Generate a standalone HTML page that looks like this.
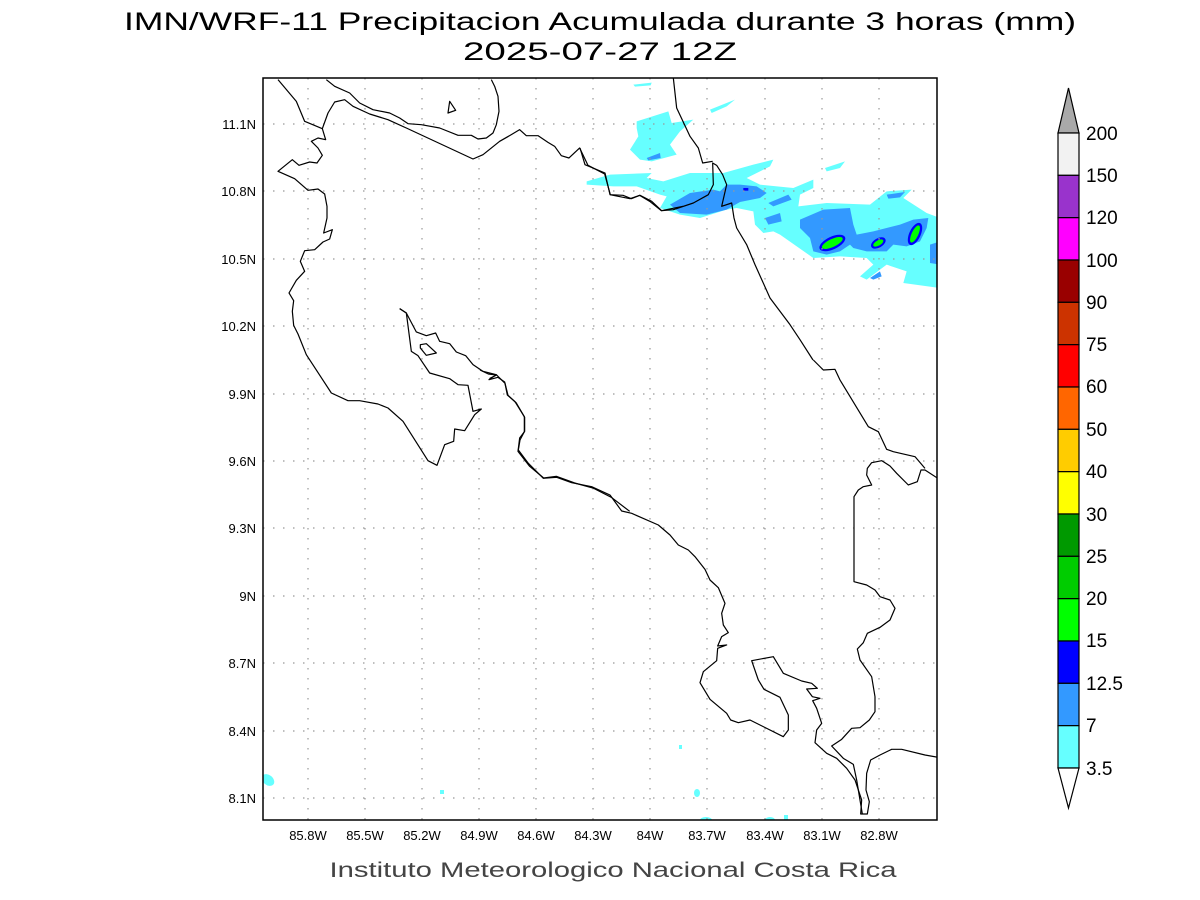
<!DOCTYPE html>
<html><head><meta charset="utf-8"><style>html,body{margin:0;padding:0;background:#fff}svg{display:block}</style></head><body>
<svg width="1200" height="900" viewBox="0 0 1200 900" xmlns="http://www.w3.org/2000/svg" font-family="Liberation Sans, sans-serif">
<rect width="1200" height="900" fill="#fff"/>
<text x="600" y="30" font-size="25" text-anchor="middle" textLength="952" lengthAdjust="spacingAndGlyphs" fill="#000">IMN/WRF-11 Precipitacion Acumulada durante 3 horas (mm)</text>
<text x="600" y="60" font-size="25" text-anchor="middle" textLength="274" lengthAdjust="spacingAndGlyphs" fill="#000">2025-07-27 12Z</text>
<defs><clipPath id="pc"><rect x="263" y="78" width="674" height="742"/></clipPath></defs>
<g clip-path="url(#pc)">
<g transform="translate(580,78) scale(0.33333)">
<path fill="#66ffff" d="M160,20 L215,14 L212,22 L165,26Z M170,130 L265,100 L275,135 L340,125 L300,160 L270,200 L290,230 L215,250 L180,245 L150,215 L175,175 L170,150Z M390,95 L465,65 L440,85 L395,105Z M20,310 L90,290 L215,285 L200,300 L250,310 L330,285 L430,285 L520,260 L580,245 L570,265 L500,300 L540,320 L640,330 L700,305 L700,330 L660,350 L655,385 L740,375 L870,380 L920,340 L995,335 L970,360 L1040,405 L1080,420 L1080,630 L970,615 L980,580 L920,560 L860,605 L840,595 L880,560 L860,540 L780,535 L700,540 L600,470 L580,460 L550,465 L525,440 L520,400 L470,390 L440,395 L360,420 L300,410 L240,390 L260,355 L240,350 L170,325 L100,325 L20,320Z M735,270 L795,250 L780,270 L740,280Z"/>
<path fill="#3399ff" d="M200,240 L240,225 L242,240 L205,247Z M270,380 L330,345 L400,335 L420,340 L440,320 L480,320 L530,325 L560,345 L540,360 L480,372 L440,395 L380,410 L300,405Z M565,375 L625,350 L635,365 L580,385Z M555,420 L600,405 L605,430 L565,440Z M920,350 L975,342 L960,358 L925,362Z M660,425 L730,395 L810,390 L820,440 L830,470 L880,460 L960,440 L1000,425 L1045,420 L1040,450 L1020,490 L980,505 L940,500 L920,520 L860,520 L820,510 L810,500 L780,520 L740,530 L700,520 L690,480 L660,450Z M1050,500 L1080,490 L1080,560 L1050,555Z M870,600 L900,580 L905,595 L880,605Z"/>
<ellipse cx="757" cy="495" rx="42" ry="19" transform="rotate(-25 757 495)" fill="#0000ff"/>
<ellipse cx="895" cy="495" rx="24" ry="14" transform="rotate(-30 895 495)" fill="#0000ff"/>
<ellipse cx="1005" cy="468" rx="17" ry="36" transform="rotate(25 1005 468)" fill="#0000ff"/>
<ellipse cx="757" cy="495" rx="34" ry="12" transform="rotate(-25 757 495)" fill="#00ff00"/>
<ellipse cx="895" cy="495" rx="17" ry="8" transform="rotate(-30 895 495)" fill="#00ff00"/>
<ellipse cx="1005" cy="468" rx="10" ry="28" transform="rotate(25 1005 468)" fill="#00ff00"/>
<rect x="490" y="330" width="15" height="8" fill="#0000ff"/>
</g>
<g fill="#66ffff">
<ellipse cx="268" cy="780" rx="7" ry="5" transform="rotate(40 268 780)"/>
<rect x="440" y="790" width="4" height="4"/>
<rect x="679" y="745" width="3" height="4"/>
<ellipse cx="697" cy="793" rx="3" ry="4"/>
<ellipse cx="706" cy="820" rx="6" ry="3"/>
<ellipse cx="770" cy="820" rx="5" ry="3"/>
<rect x="784" y="815" width="4" height="5"/>
</g>
<g stroke="#999" stroke-width="1.2" stroke-dasharray="1.5,8.5">
<line x1="308" y1="78" x2="308" y2="820"/><line x1="365" y1="78" x2="365" y2="820"/><line x1="422" y1="78" x2="422" y2="820"/><line x1="479" y1="78" x2="479" y2="820"/><line x1="536" y1="78" x2="536" y2="820"/><line x1="593" y1="78" x2="593" y2="820"/><line x1="650" y1="78" x2="650" y2="820"/><line x1="707" y1="78" x2="707" y2="820"/><line x1="765" y1="78" x2="765" y2="820"/><line x1="822" y1="78" x2="822" y2="820"/><line x1="879" y1="78" x2="879" y2="820"/>
<line x1="263" y1="124" x2="937" y2="124"/><line x1="263" y1="191" x2="937" y2="191"/><line x1="263" y1="259" x2="937" y2="259"/><line x1="263" y1="326" x2="937" y2="326"/><line x1="263" y1="394" x2="937" y2="394"/><line x1="263" y1="461" x2="937" y2="461"/><line x1="263" y1="528" x2="937" y2="528"/><line x1="263" y1="596" x2="937" y2="596"/><line x1="263" y1="663" x2="937" y2="663"/><line x1="263" y1="731" x2="937" y2="731"/><line x1="263" y1="798" x2="937" y2="798"/>
</g>
<g fill="none" stroke="#000" stroke-width="1.2" stroke-linejoin="round">
<g transform="translate(263,78) scale(0.33333)">
<path vector-effect="non-scaling-stroke" d="M45,5 L100,70 L125,130 L178,152 L188,185 L165,180 L145,190 L165,210 L178,232 L162,255 L140,252 L108,262 L88,245 L45,280 L95,302 L135,337 L165,333 L185,348 L192,385 L192,420 L182,465 L208,455 L200,483 L180,492 L155,515 L125,518 L112,550 L125,580 L100,607 L78,645 L92,668 L88,700 L92,742 L105,768 L130,830 L205,945 L255,968 L290,968 L345,978 L375,990 L420,1030 L495,1148 L522,1162 L545,1100 L572,1090 L575,1053 L605,1058 L635,1010 L655,993 L630,1000 L615,922 L585,920 L560,902 L500,885 L465,833 L445,820 L430,705 L410,692"/>
<path vector-effect="non-scaling-stroke" d="M410,692 L430,705 L460,762 L490,773 L518,765 L530,790 L560,797 L580,822 L608,833 L630,860 L660,880 L700,890 L678,905 L705,898 L725,912 L735,952 L760,975 L785,1018 L785,1060 L770,1080 L765,1120 L800,1165 L842,1200 L880,1195 L935,1215 L990,1230 L1045,1258 L1100,1300"/>
<path vector-effect="non-scaling-stroke" d="M472,800 L490,797 L520,825 L490,832 L472,810Z M555,105 L560,70 L578,97Z"/>
<path vector-effect="non-scaling-stroke" d="M190,5 L215,25 L260,45 L290,75 L330,95 L380,105 L410,120 L435,137 L475,140 L530,150 L585,172 L625,172 L645,183 L670,180 L690,165 L700,140 L708,100 L705,55 L695,25 L685,5"/>
<path vector-effect="non-scaling-stroke" d="M178,152 L195,105 L215,72 L245,65 L270,85 L320,108 L375,125 L430,150 L630,243 L660,230 L710,190 L745,170 L770,155 L790,173 L825,173 L855,193 L875,205 L895,233 L918,240 L950,210 L975,262 L1025,288 L1042,350 L1080,352 L1105,362 L1130,352 L1160,370 L1195,398 L1260,385"/>
</g>
<g transform="translate(580,78) scale(0.33333)">
<path vector-effect="non-scaling-stroke" d="M0,210 L15,260 L75,285 L90,350 L150,362 L180,352 L215,370 L245,398 L280,395 L340,375 L385,350 L400,320 L398,255 L410,262 L428,290 L440,320 L425,385 L455,375 L462,420 L470,450 L500,500 L525,560 L570,660 L630,740 L660,785 L699,846"/>
<path vector-effect="non-scaling-stroke" d="M280,0 L290,90 L330,175 L355,210 L368,255 L398,250"/>
</g>
<g transform="translate(480,360) scale(0.33333)">
<path vector-effect="non-scaling-stroke" d="M0,30 L25,42 L50,45 L30,55 L50,45 L75,70 L82,105 L105,125 L133,170 L133,215 L120,240 L115,270 L145,310 L190,355 L230,352 L275,368 L335,380 L390,405 L425,453 L455,460 L535,495 L570,525 L595,555 L625,570 L645,590 L675,628 L690,660 L715,683 L735,730 L725,760 L730,795 L745,818 L725,830 L713,858 L740,855 L713,865 L710,902 L670,935 L660,968 L690,1018 L740,1060 L752,1080 L775,1088 L810,1080 L910,1130 L925,1110 L925,1065 L900,1012 L852,988 L835,960 L815,902 L880,890 L910,940 L965,963 L995,970 L1012,985 L980,987 L997,1010 L1020,1015 L998,1022 L1010,1045 L1025,1090 L1010,1110 L1005,1148 L1040,1180 L1070,1195 L1100,1225 L1125,1260 L1145,1320 L1142,1362 L1162,1362 L1168,1325 L1158,1290 L1160,1240 L1172,1200 L1200,1185 L1235,1168 L1265,1168 L1335,1185 L1375,1192"/>
<path vector-effect="non-scaling-stroke" d="M1147,1362 L1130,1260 L1120,1213 L1090,1195 L1055,1158 L1085,1138 L1115,1105 L1140,1103 L1168,1080 L1185,1055 L1185,1010 L1175,950 L1140,900 L1132,867 L1150,848 L1162,820 L1200,802 L1230,780 L1245,745 L1230,720 L1200,710 L1185,690 L1160,675 L1122,665 L1122,410 L1135,390 L1150,380 L1175,375 L1160,345 L1162,325 L1175,308 L1205,302 L1230,318 L1250,340 L1285,375 L1312,365 L1323,330 L1335,330 L1375,356"/>
<path vector-effect="non-scaling-stroke" d="M1000,0 L1030,30 L1065,28 L1080,60 L1165,200 L1195,215 L1220,268 L1240,275 L1305,290 L1335,325"/>
</g>
</g>
</g>
<rect x="263" y="78" width="674" height="742" fill="none" stroke="#000" stroke-width="1.5"/>
<g font-size="13" fill="#000" text-anchor="end">
<text x="256" y="129">11.1N</text><text x="256" y="196">10.8N</text><text x="256" y="264">10.5N</text><text x="256" y="331">10.2N</text><text x="256" y="399">9.9N</text><text x="256" y="466">9.6N</text><text x="256" y="533">9.3N</text><text x="256" y="601">9N</text><text x="256" y="668">8.7N</text><text x="256" y="736">8.4N</text><text x="256" y="803">8.1N</text>
</g>
<g font-size="13" fill="#000" text-anchor="middle">
<text x="308" y="840">85.8W</text><text x="365" y="840">85.5W</text><text x="422" y="840">85.2W</text><text x="479" y="840">84.9W</text><text x="536" y="840">84.6W</text><text x="593" y="840">84.3W</text><text x="650" y="840">84W</text><text x="707" y="840">83.7W</text><text x="765" y="840">83.4W</text><text x="822" y="840">83.1W</text><text x="879" y="840">82.8W</text>
</g>
<text x="613" y="877" font-size="21" fill="#444" text-anchor="middle" textLength="567" lengthAdjust="spacingAndGlyphs">Instituto Meteorologico Nacional Costa Rica</text>
<g stroke="#000" stroke-width="1.2">
<polygon points="1058,133 1079,133 1068.5,88" fill="#a9a9a9"/>
<rect x="1058" y="133" width="21" height="42.33" fill="#f2f2f2"/>
<rect x="1058" y="175.33" width="21" height="42.33" fill="#9933cc"/>
<rect x="1058" y="217.67" width="21" height="42.33" fill="#ff00ff"/>
<rect x="1058" y="260" width="21" height="42.33" fill="#990000"/>
<rect x="1058" y="302.33" width="21" height="42.33" fill="#cc3300"/>
<rect x="1058" y="344.67" width="21" height="42.33" fill="#ff0000"/>
<rect x="1058" y="387" width="21" height="42.33" fill="#ff6600"/>
<rect x="1058" y="429.33" width="21" height="42.33" fill="#ffcc00"/>
<rect x="1058" y="471.67" width="21" height="42.33" fill="#ffff00"/>
<rect x="1058" y="514" width="21" height="42.33" fill="#009900"/>
<rect x="1058" y="556.33" width="21" height="42.33" fill="#00cc00"/>
<rect x="1058" y="598.67" width="21" height="42.33" fill="#00ff00"/>
<rect x="1058" y="641" width="21" height="42.33" fill="#0000ff"/>
<rect x="1058" y="683.33" width="21" height="42.33" fill="#3399ff"/>
<rect x="1058" y="725.67" width="21" height="42.33" fill="#66ffff"/>
<polygon points="1058,768 1079,768 1068.5,808" fill="#fff"/>
</g>
<g font-size="19" fill="#000">
<text x="1086" y="140">200</text><text x="1086" y="182">150</text><text x="1086" y="224">120</text><text x="1086" y="267">100</text><text x="1086" y="309">90</text><text x="1086" y="351">75</text><text x="1086" y="393">60</text><text x="1086" y="436">50</text><text x="1086" y="478">40</text><text x="1086" y="521">30</text><text x="1086" y="563">25</text><text x="1086" y="605">20</text><text x="1086" y="647">15</text><text x="1086" y="690">12.5</text><text x="1086" y="732">7</text><text x="1086" y="775">3.5</text>
</g>
</svg>
</body></html>
